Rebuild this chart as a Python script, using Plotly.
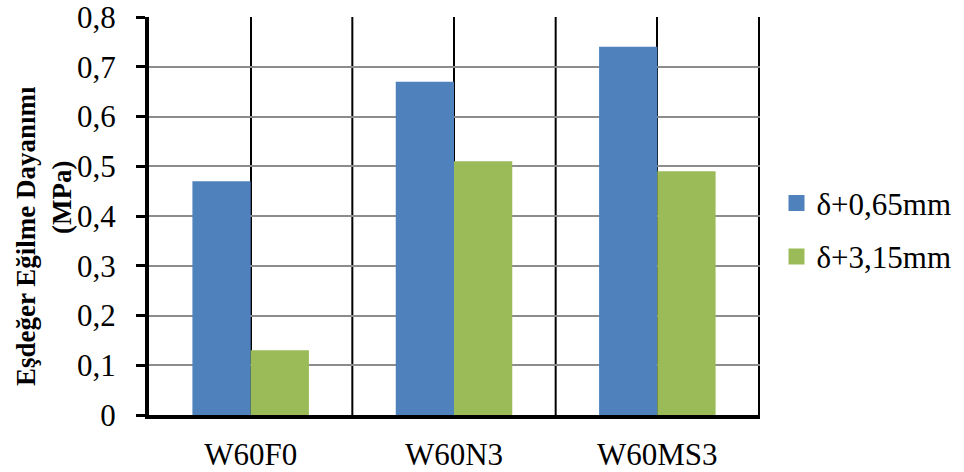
import plotly.graph_objects as go

# Specimen groups and equivalent flexural strength (MPa) at two deflections
categories = ["W60F0", "W60N3", "W60MS3"]
series_names = ["δ+0,65mm", "δ+3,15mm"]
strength_065 = [0.47, 0.67, 0.74]
strength_315 = [0.13, 0.51, 0.49]
y_ticks = [0, 0.1, 0.2, 0.3, 0.4, 0.5, 0.6, 0.7, 0.8]
y_tick_text = ["0", "0,1", "0,2", "0,3", "0,4", "0,5", "0,6", "0,7", "0,8"]

BLUE = "#4F81BD"
GREEN = "#9BBB59"
SERIF = "Liberation Serif"

fig = go.Figure()
for vals, name, color, grp in [(strength_065, series_names[0], BLUE, "a"),
                               (strength_315, series_names[1], GREEN, "b")]:
    fig.add_trace(go.Bar(x=categories, y=vals, name=name,
                         marker=dict(color=color, line=dict(width=0)),
                         legendgroup=grp, showlegend=False))
    # legend entry with a larger square swatch
    fig.add_trace(go.Scatter(x=[None], y=[None], mode="markers", name=name,
                             marker=dict(symbol="square", size=16, color=color),
                             legendgroup=grp, showlegend=True))

# black dividers between the groups and on the right edge of the plot
for xb in [0.5, 1.5, 2.5]:
    fig.add_shape(type="line", xref="x", yref="paper", x0=xb, x1=xb, y0=0, y1=1,
                  line=dict(color="black", width=2), layer="below")

# two-line y-axis title
fig.add_annotation(text="<b>Eşdeğer Eğilme Dayanımı</b>", textangle=-90,
                   xref="paper", yref="paper", x=-0.2013, y=0.4497,
                   xanchor="center", yanchor="middle", showarrow=False,
                   font=dict(family=SERIF, size=27, color="black"))
fig.add_annotation(text="<b>(MPa)</b>", textangle=-90,
                   xref="paper", yref="paper", x=-0.1424, y=0.5477,
                   xanchor="center", yanchor="middle", showarrow=False,
                   font=dict(family=SERIF, size=27, color="black"))

fig.update_layout(
    width=964, height=472,
    margin=dict(l=149, r=204, t=17, b=57, autoexpand=False),
    paper_bgcolor="white", plot_bgcolor="white",
    barmode="group", bargap=0.427, bargroupgap=0,
    font=dict(family=SERIF, size=31, color="black"),
    legend=dict(x=1.027, y=0.465, xanchor="left", yanchor="middle",
                font=dict(family=SERIF, size=31, color="black"),
                tracegroupgap=10, bgcolor="rgba(0,0,0,0)"),
    xaxis=dict(type="category", showgrid=True, gridcolor="black", gridwidth=2,
               showline=True, linecolor="black", linewidth=4,
               ticks="", ticklabelstandoff=9, zeroline=False, automargin=False,
               tickfont=dict(family=SERIF, size=31, color="black")),
    yaxis=dict(range=[0, 0.8], tickvals=y_ticks, ticktext=y_tick_text,
               showgrid=True, gridcolor="#8c8c8c", gridwidth=2,
               showline=True, linecolor="black", linewidth=4,
               ticks="outside", ticklen=9, tickwidth=3, tickcolor="black",
               ticklabelstandoff=14, ticklabeloverflow="allow",
               zeroline=False, automargin=False,
               tickfont=dict(family=SERIF, size=31, color="black")),
)

fig.write_html("out.html")
